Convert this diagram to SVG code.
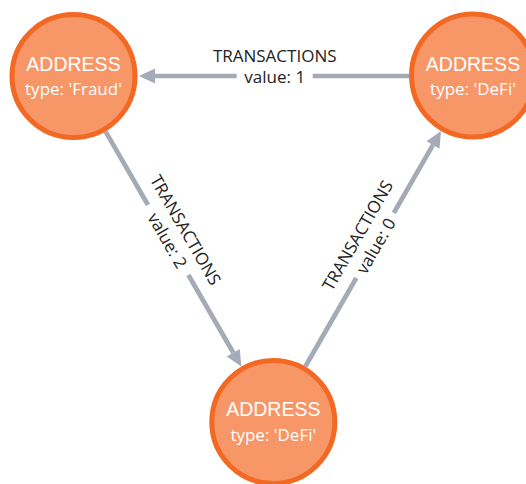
<svg xmlns="http://www.w3.org/2000/svg" width="526" height="484" viewBox="0 0 526 484">
  <defs>
    <marker id="arrow" markerUnits="userSpaceOnUse" viewBox="0 -8 16 16" markerWidth="16" markerHeight="16" refX="0" refY="0" orient="auto" overflow="visible">
      <path d="M0,-7.5 L16,0 L0,7.5 Z" fill="#A5ABB6"/>
    </marker>
    <style>
      .edge { fill: none; stroke: #A5ABB6; stroke-width: 4.7; }
      .elabel { font-family: "Open Sans", "Noto Sans", sans-serif; font-size: 17px; fill: #222222; text-anchor: middle; }
      .node circle { fill: #F79767; stroke: #F36924; stroke-width: 5; }
      .ntitle { font-family: "Liberation Sans", Arial, sans-serif; font-size: 19.5px; fill: #FFFFFF; text-anchor: middle; }
      .nprop { font-family: "Open Sans", "Noto Sans", sans-serif; font-size: 17px; fill: #FFFFFF; text-anchor: middle; }
    </style>
  </defs>
  <rect width="526" height="484" fill="#FFFFFF"/>

  <!-- relationships -->
  <g id="connectors">
    <!-- DeFi (top right) -> Fraud -->
    <g id="edge-value-1">
      <path class="edge" d="M409,76 L312.7,76"/>
      <path class="edge" d="M236.7,76 L155,76" marker-end="url(#arrow)"/>
      <g transform="translate(274.7,76)">
        <text class="elabel" y="-14">TRANSACTIONS</text>
        <text class="elabel" y="7">value: 1</text>
      </g>
    </g>
    <!-- Fraud -> DeFi (bottom) -->
    <g id="edge-value-2">
      <path class="edge" d="M105.5,131.4 L148,205"/>
      <path class="edge" d="M188.4,275 L233.3,352.7" marker-end="url(#arrow)"/>
      <g transform="translate(168.2,240) rotate(60)">
        <text class="elabel" y="-14">TRANSACTIONS</text>
        <text class="elabel" y="7">value: 2</text>
      </g>
    </g>
    <!-- DeFi (bottom) -> DeFi (top right) -->
    <g id="edge-value-0">
      <path class="edge" d="M305.3,366.5 L356.3,278"/>
      <path class="edge" d="M393.8,213 L433,144.9" marker-end="url(#arrow)"/>
      <g transform="translate(375,245.5) rotate(-60.04)">
        <text class="elabel" y="-14">TRANSACTIONS</text>
        <text class="elabel" y="7">value: 0</text>
      </g>
    </g>
  </g>

  <!-- addresses -->
  <g id="node-fraud" class="node">
    <circle cx="73.5" cy="76" r="61.5"/>
    <text class="ntitle" x="73.5" y="71">ADDRESS</text>
    <text class="nprop" x="73.5" y="95">type: 'Fraud'</text>
  </g>
  <g id="node-defi-top" class="node">
    <circle cx="473" cy="75.5" r="61.5"/>
    <text class="ntitle" x="473" y="70.5">ADDRESS</text>
    <text class="nprop" x="473" y="94.5">type: 'DeFi'</text>
  </g>
  <g id="node-defi-bottom" class="node">
    <circle cx="273.3" cy="422" r="61.5"/>
    <text class="ntitle" x="273.3" y="416">ADDRESS</text>
    <text class="nprop" x="273.3" y="441">type: 'DeFi'</text>
  </g>
</svg>
